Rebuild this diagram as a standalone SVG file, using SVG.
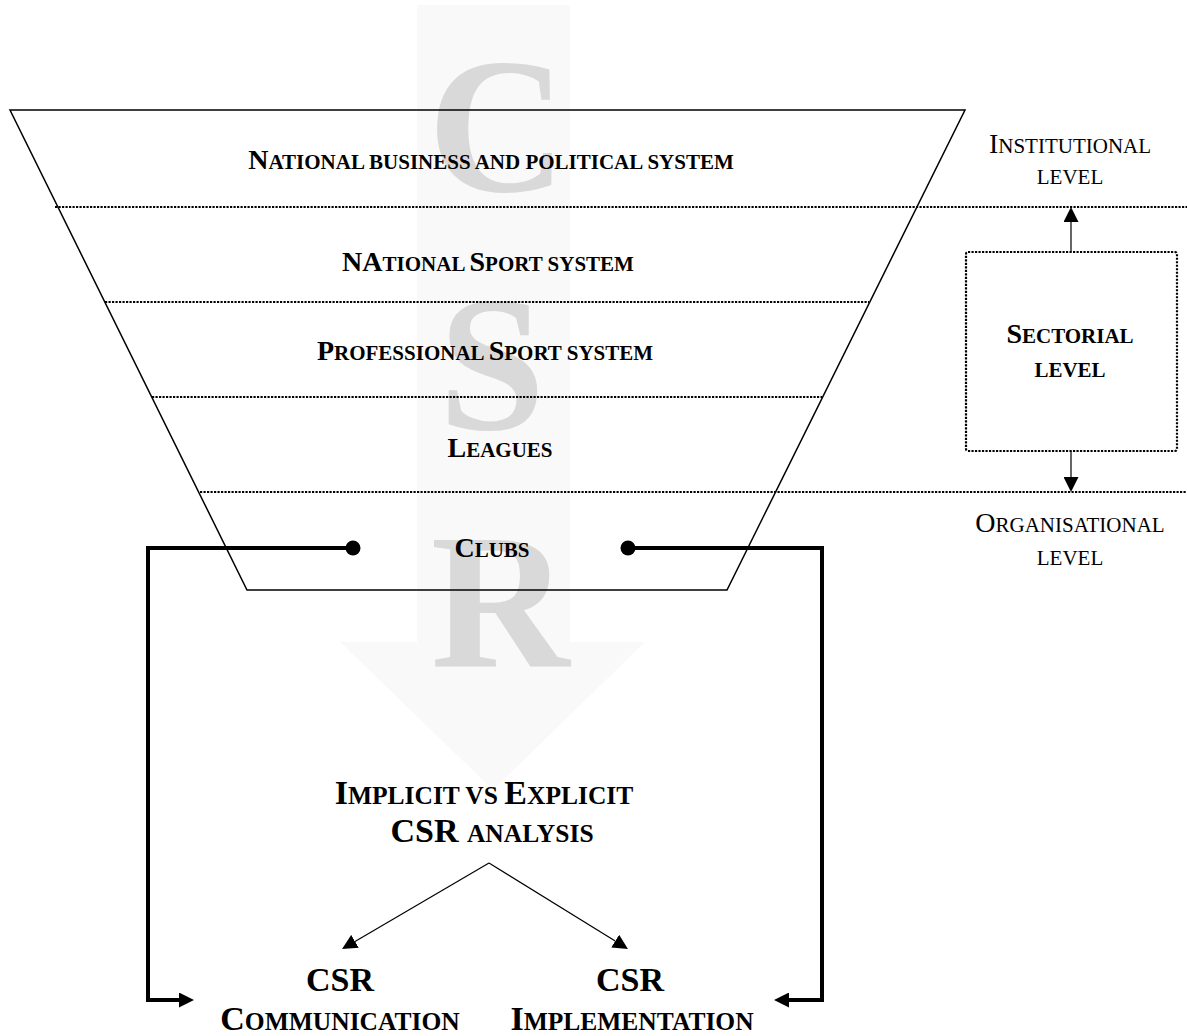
<svg xmlns="http://www.w3.org/2000/svg" width="1187" height="1036" viewBox="0 0 1187 1036">
<style>
.t{font-family:"Liberation Serif","Times New Roman",serif;fill:#000;}
.b{font-weight:bold;}
.big{fill:#d9d9d9;font-family:"Liberation Serif","Times New Roman",serif;font-weight:bold;font-size:192px;}
.dot{stroke:#000;stroke-width:2.2;stroke-dasharray:2.2 1.3;fill:none;}
.thin{stroke:#000;stroke-width:1.2;fill:none;}
.thick{stroke:#000;stroke-width:4;fill:none;}
</style>
<defs>
<marker id="ah" viewBox="0 0 10 10" refX="0" refY="5" markerWidth="15" markerHeight="15" markerUnits="userSpaceOnUse" orient="auto"><path d="M0,0 L10,5 L0,10 z" fill="#000"/></marker>
<marker id="ahk" viewBox="0 0 10 10" refX="0" refY="5" markerWidth="16" markerHeight="15" markerUnits="userSpaceOnUse" orient="auto"><path d="M0,0 L10,5 L0,10 z" fill="#000"/></marker>
</defs>
<rect width="1187" height="1036" fill="#fff"/>
<g id="csr-arrow">
<polygon points="417,5 570,5 570,642 645,642 493,790 340,642 417,642" fill="#f9f9f9"/>
<text class="big" x="497" y="191" text-anchor="middle">C</text>
<text class="big" x="492" y="429" text-anchor="middle">S</text>
<text class="big" x="500" y="667" text-anchor="middle">R</text>
</g>
<g id="funnel">
<polygon points="10,110 965,110 727,590 247,590" fill="none" stroke="#000" stroke-width="1.5"/>
<line class="dot" x1="55" y1="207" x2="1187" y2="207"/>
<line class="dot" x1="105" y1="302" x2="869" y2="302"/>
<line class="dot" x1="152" y1="397" x2="822" y2="397"/>
<line class="dot" x1="200" y1="492" x2="1187" y2="492"/>
</g>
<g id="layer-national-business">
<text class="t b" x="491" y="169" text-anchor="middle"><tspan font-size="28">N</tspan><tspan font-size="21">ATIONAL BUSINESS AND POLITICAL SYSTEM</tspan></text>
</g>
<g id="layer-national-sport">
<text class="t b" x="488" y="271" text-anchor="middle"><tspan font-size="28">NA</tspan><tspan font-size="21">TIONAL </tspan><tspan font-size="28">S</tspan><tspan font-size="21">PORT SYSTEM</tspan></text>
</g>
<g id="layer-professional-sport">
<text class="t b" x="485" y="360" text-anchor="middle"><tspan font-size="28">P</tspan><tspan font-size="21">ROFESSIONAL </tspan><tspan font-size="28">S</tspan><tspan font-size="21">PORT SYSTEM</tspan></text>
</g>
<g id="layer-leagues">
<text class="t b" x="500" y="457" text-anchor="middle"><tspan font-size="28">L</tspan><tspan font-size="21">EAGUES</tspan></text>
</g>
<g id="layer-clubs">
<text class="t b" x="492" y="557" text-anchor="middle"><tspan font-size="28">C</tspan><tspan font-size="21">LUBS</tspan></text>
</g>
<g id="institutional-level">
<text class="t" x="1070" y="153" text-anchor="middle"><tspan font-size="28">I</tspan><tspan font-size="21">NSTITUTIONAL</tspan></text>
<text class="t" x="1070" y="184" text-anchor="middle" font-size="21">LEVEL</text>
</g>
<g id="sectorial-level">
<rect x="966" y="252" width="211" height="199" rx="2" class="dot"/>
<text class="t b" x="1070" y="343" text-anchor="middle"><tspan font-size="28">S</tspan><tspan font-size="21">ECTORIAL</tspan></text>
<text class="t b" x="1070" y="377" text-anchor="middle" font-size="21">LEVEL</text>
</g>
<g id="organisational-level">
<text class="t" x="1070" y="532" text-anchor="middle"><tspan font-size="28">O</tspan><tspan font-size="21">RGANISATIONAL</tspan></text>
<text class="t" x="1070" y="565" text-anchor="middle" font-size="21">LEVEL</text>
</g>
<g id="analysis">
<text class="t b" x="484" y="804" text-anchor="middle"><tspan font-size="34">I</tspan><tspan font-size="25.5">MPLICIT VS </tspan><tspan font-size="34">E</tspan><tspan font-size="25.5">XPLICIT</tspan></text>
<text class="t b" x="492" y="842" text-anchor="middle"><tspan font-size="34">CSR </tspan><tspan font-size="25.5">ANALYSIS</tspan></text>
</g>
<g id="csr-communication">
<text class="t b" x="340" y="991" text-anchor="middle" font-size="34">CSR</text>
<text class="t b" x="340" y="1030" text-anchor="middle"><tspan font-size="34">C</tspan><tspan font-size="25.5">OMMUNICATION</tspan></text>
</g>
<g id="csr-implementation">
<text class="t b" x="630" y="991" text-anchor="middle" font-size="34">CSR</text>
<text class="t b" x="632" y="1030" text-anchor="middle"><tspan font-size="34">I</tspan><tspan font-size="25.5">MPLEMENTATION</tspan></text>
</g>
<g id="connectors">
<polyline class="thick" points="353,548 148,548 148,1000 179,1000" marker-end="url(#ahk)"/>
<polyline class="thick" points="628,548 822,548 822,1000 789,1000" marker-end="url(#ahk)"/>
<circle cx="353" cy="548" r="7.5" fill="#000"/>
<circle cx="628" cy="548" r="7.5" fill="#000"/>
<line class="thin" x1="489" y1="863" x2="355" y2="941.4" marker-end="url(#ah)"/>
<line class="thin" x1="489" y1="863" x2="615.2" y2="941.1" marker-end="url(#ah)"/>
<line class="thin" x1="1071" y1="252" x2="1071" y2="222" marker-end="url(#ah)"/>
<line class="thin" x1="1071" y1="451" x2="1071" y2="477" marker-end="url(#ah)"/>
</g>
</svg>
